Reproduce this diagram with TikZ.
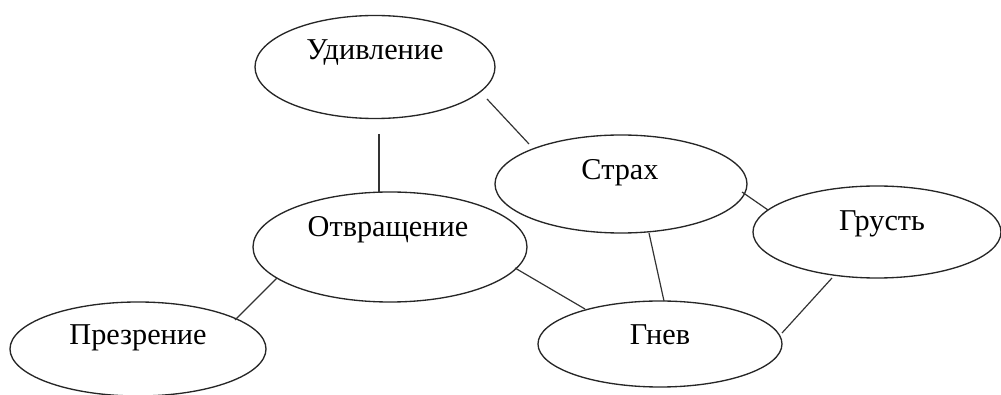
\documentclass[tikz,border=0pt]{standalone}
\usepackage{fontspec}
\setmainfont{Liberation Serif}
\usetikzlibrary{shapes.geometric}

\tikzset{
  emo/.style={ellipse, draw=black!85, line width=1pt, inner sep=0pt},
  word/.style={anchor=base, inner sep=0pt, font=\fontsize{22.7}{27}\selectfont},
  link/.style={draw=black!80, line width=0.9pt}
}

\begin{document}
\begin{tikzpicture}[x=0.75pt, y=-0.75pt]
  \useasboundingbox (0,0) rectangle (1001,395);

  % ellipses
  \node[emo, minimum width=180pt, minimum height=77.25pt] (ud)  at (375,67)  {};
  \node[emo, minimum width=189pt, minimum height=73.5pt]  (str) at (621,184) {};
  \node[emo, minimum width=186pt, minimum height=69pt]    (gr)  at (877,232) {};
  \node[emo, minimum width=205.5pt, minimum height=82.5pt](otv) at (390,247) {};
  \node[emo, minimum width=192pt, minimum height=70.5pt]  (pr)  at (138,349) {};
  \node[emo, minimum width=183pt, minimum height=64.5pt]  (gn)  at (660,344) {};

  % labels
  \node[word] (tud)  at (375,60)  {Удивление};
  \node[word] (tstr) at (620,180) {Страх};
  \node[word] (tgr)  at (882,231) {Грусть};
  \node[word] (totv) at (388,237) {Отвращение};
  \node[word] (tpr)  at (138,345) {Презрение};
  \node[word] (tgn)  at (660,345) {Гнев};

  % connector end points
  \coordinate (a1) at (379,134); \coordinate (a2) at (379,193);
  \coordinate (b1) at (487,99);  \coordinate (b2) at (529,144);
  \coordinate (c1) at (742,192); \coordinate (c2) at (768,210);
  \coordinate (d1) at (649,233); \coordinate (d2) at (664,301);
  \coordinate (e1) at (515,268); \coordinate (e2) at (585,309);
  \coordinate (f1) at (277,278); \coordinate (f2) at (235,320);
  \coordinate (g1) at (832,278); \coordinate (g2) at (782,333);

  % connectors
  \draw[link] (a1) -- (a2);
  \draw[link] (b1) -- (b2);
  \draw[link] (c1) -- (c2);
  \draw[link] (d1) -- (d2);
  \draw[link] (e1) -- (e2);
  \draw[link] (f1) -- (f2);
  \draw[link] (g1) -- (g2);
\end{tikzpicture}
\end{document}
